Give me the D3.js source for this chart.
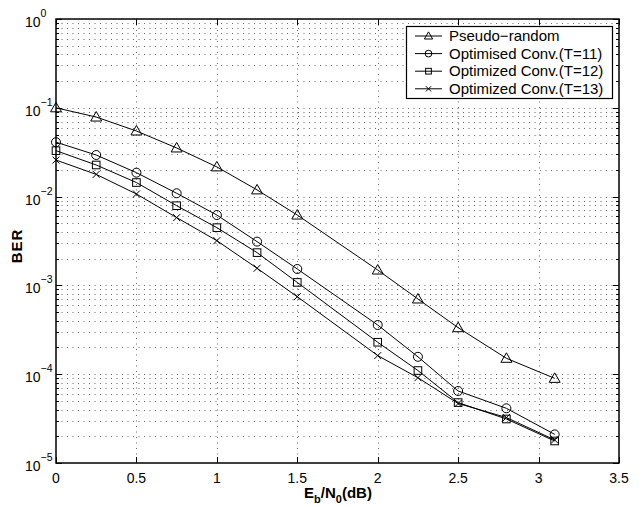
<!DOCTYPE html>
<html>
<head>
<meta charset="utf-8">
<script src="https://cdn.jsdelivr.net/npm/d3@7"></script>
<style>
  body { margin: 0; background: #fff; }
  svg { font-family: 'Liberation Sans', Arial, sans-serif; }
</style>
</head>
<body>
<div id="chart"></div>
<script>
// Eb/N0 values (dB)
const snr = [0, 0.25, 0.5, 0.75, 1, 1.25, 1.5, 2, 2.25, 2.5, 2.8, 3.1];

const berPseudo = [0.1, 0.0787, 0.0548, 0.0353, 0.0216, 0.0119, 0.0062, 0.00149, 0.000703, 0.000334, 0.000151, 0.0000898];
const berT11 = [0.041, 0.0294, 0.0186, 0.0109, 0.0062, 0.00311, 0.00153, 0.000358, 0.000157, 0.0000647, 0.0000413, 0.000021];
const berT12 = [0.0329, 0.0227, 0.0144, 0.0079, 0.00447, 0.00234, 0.00108, 0.000229, 0.00011, 0.0000479, 0.0000313, 0.0000177];
const berT13 = [0.0258, 0.0178, 0.0107, 0.0058, 0.00319, 0.00156, 0.000746, 0.000162, 0.0000913, 0.0000468, 0.0000325, 0.0000182];

const seriesNames = ['Pseudo\u2212random', 'Optimised Conv.(T=11)', 'Optimized Conv.(T=12)', 'Optimized Conv.(T=13)'];
const seriesMarkers = ['triangle', 'circle', 'square', 'cross'];
const seriesValues = [berPseudo, berT11, berT12, berT13];

const xTicks = [0, 0.5, 1, 1.5, 2, 2.5, 3, 3.5];
const yExps = [0, -1, -2, -3, -4, -5];

const W = 643, H = 506;
const pLeft = 56, pRight = 619, pTop = 19, pBottom = 463;

const svg = d3.select('#chart')
  .append('svg')
  .attr('width', W)
  .attr('height', H);

const x = d3.scaleLinear().domain([0, 3.5]).range([pLeft, pRight]);
const y = d3.scaleLog().domain([1e-5, 1]).range([pBottom, pTop]);

// minor log ticks
const minorY = [];
yExps.slice(0, -1).forEach((e) => {
  for (let k = 2; k <= 9; k += 1) minorY.push(k * 10 ** (e - 1));
});
const majorY = yExps.map((e) => 10 ** e);

// dotted grid
const grid = svg.append('g')
  .attr('stroke', '#666')
  .attr('stroke-width', 1)
  .attr('stroke-dasharray', '1,4.5');

grid.selectAll('.gy')
  .data(minorY.concat(majorY.slice(1, -1)))
  .enter().append('line')
  .attr('x1', pLeft).attr('x2', pRight)
  .attr('y1', (d) => Math.round(y(d)) + 0.5)
  .attr('y2', (d) => Math.round(y(d)) + 0.5);

grid.selectAll('.gx')
  .data(xTicks.slice(1, -1))
  .enter().append('line')
  .attr('y1', pTop).attr('y2', pBottom)
  .attr('x1', (d) => Math.round(x(d)) + 0.5)
  .attr('x2', (d) => Math.round(x(d)) + 0.5);

// ticks inside the box
const ticks = svg.append('g').attr('stroke', '#000').attr('stroke-width', 1);
xTicks.forEach((t) => {
  const px = Math.round(x(t)) + 0.5;
  ticks.append('line').attr('x1', px).attr('x2', px).attr('y1', pBottom).attr('y2', pBottom - 6);
  ticks.append('line').attr('x1', px).attr('x2', px).attr('y1', pTop).attr('y2', pTop + 6);
});
majorY.forEach((t) => {
  const py = Math.round(y(t)) + 0.5;
  ticks.append('line').attr('x1', pLeft).attr('x2', pLeft + 6).attr('y1', py).attr('y2', py);
  ticks.append('line').attr('x1', pRight).attr('x2', pRight - 6).attr('y1', py).attr('y2', py);
});
minorY.forEach((t) => {
  const py = Math.round(y(t)) + 0.5;
  ticks.append('line').attr('x1', pLeft).attr('x2', pLeft + 3).attr('y1', py).attr('y2', py);
  ticks.append('line').attr('x1', pRight).attr('x2', pRight - 3).attr('y1', py).attr('y2', py);
});

// axes box
svg.append('rect')
  .attr('x', pLeft).attr('y', pTop)
  .attr('width', pRight - pLeft).attr('height', pBottom - pTop)
  .attr('fill', 'none')
  .attr('stroke', '#000')
  .attr('stroke-width', 1.5);

// tick labels
svg.selectAll('.xl')
  .data(xTicks)
  .enter().append('text')
  .attr('x', (d) => x(d))
  .attr('y', pBottom + 20)
  .attr('text-anchor', 'middle')
  .attr('font-size', 14)
  .text((d) => d);

const yl = svg.selectAll('.yl')
  .data(yExps)
  .enter().append('text')
  .attr('x', 25)
  .attr('y', (d) => y(10 ** d) + 8)
  .attr('font-size', 14);
yl.append('tspan').text('10');
yl.append('tspan')
  .attr('dy', -10)
  .attr('font-size', 10.5)
  .text((d) => (d < 0 ? `\u2212${-d}` : d));

// axis titles
const xt = svg.append('text')
  .attr('x', 338)
  .attr('y', 498)
  .attr('text-anchor', 'middle')
  .attr('font-size', 15)
  .attr('font-weight', 'bold');
xt.append('tspan').text('E');
xt.append('tspan').attr('dy', 5).attr('font-size', 11).text('b');
xt.append('tspan').attr('dy', -5).text('/N');
xt.append('tspan').attr('dy', 5).attr('font-size', 11).text('0');
xt.append('tspan').attr('dy', -5).text('(dB)');

svg.append('text')
  .attr('transform', 'translate(22,246) rotate(-90)')
  .attr('text-anchor', 'middle')
  .attr('font-size', 15)
  .attr('font-weight', 'bold')
  .attr('letter-spacing', 1)
  .text('BER');

// markers
const drawMarker = (g, type, cx, cy, s = 1) => {
  if (type === 'triangle') {
    g.append('path')
      .attr('d', `M${cx},${cy - 5.5 * s}L${cx + 5.5 * s},${cy + 4 * s}L${cx - 5.5 * s},${cy + 4 * s}Z`)
      .attr('fill', 'none').attr('stroke', '#000');
  } else if (type === 'circle') {
    g.append('circle').attr('cx', cx).attr('cy', cy).attr('r', 4.5 * s)
      .attr('fill', 'none').attr('stroke', '#000');
  } else if (type === 'square') {
    g.append('rect').attr('x', cx - 3.8 * s).attr('y', cy - 3.8 * s)
      .attr('width', 7.6 * s).attr('height', 7.6 * s)
      .attr('fill', 'none').attr('stroke', '#000');
  } else {
    g.append('path')
      .attr('d', `M${cx - 3.5 * s},${cy - 3.5 * s}L${cx + 3.5 * s},${cy + 3.5 * s}M${cx - 3.5 * s},${cy + 3.5 * s}L${cx + 3.5 * s},${cy - 3.5 * s}`)
      .attr('stroke', '#000');
  }
};

const line = d3.line()
  .x((d) => x(d[0]))
  .y((d) => y(d[1]));

seriesValues.forEach((vals, i) => {
  const pts = snr.map((s, j) => [s, vals[j]]);
  const g = svg.append('g');
  g.append('path')
    .datum(pts)
    .attr('d', line)
    .attr('fill', 'none')
    .attr('stroke', '#000')
    .attr('stroke-width', 1);
  pts.forEach((p) => drawMarker(g, seriesMarkers[i], x(p[0]), y(p[1])));
});

// legend
const lg = svg.append('g');
lg.append('rect')
  .attr('x', 406.5).attr('y', 26.5)
  .attr('width', 206).attr('height', 72)
  .attr('fill', '#fff')
  .attr('stroke', '#000')
  .attr('stroke-width', 1.2);
seriesNames.forEach((name, i) => {
  const ly = 36 + i * 17.6;
  lg.append('line')
    .attr('x1', 415).attr('x2', 442)
    .attr('y1', ly).attr('y2', ly)
    .attr('stroke', '#000');
  drawMarker(lg, seriesMarkers[i], 428.5, ly, 0.75);
  lg.append('text')
    .attr('x', 449)
    .attr('y', ly + 5)
    .attr('font-size', 15)
    .text(name);
});
</script>
</body>
</html>
